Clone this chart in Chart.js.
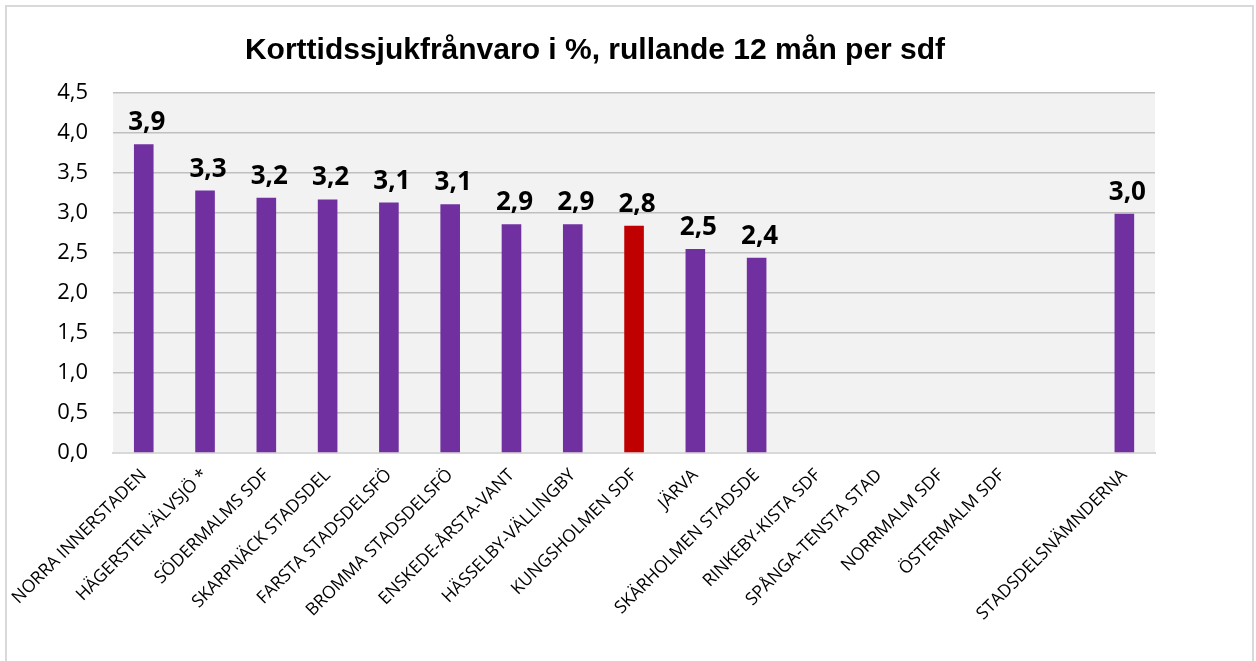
<!DOCTYPE html>
<html>
<head>
<meta charset="utf-8">
<script src="https://cdn.jsdelivr.net/npm/chart.js@4"></script>
<style>
  html, body { margin: 0; padding: 0; background: #fff; }
  #wrap { position: relative; width: 1256px; height: 661px; overflow: hidden; }
  #frame { position: absolute; left: 5px; top: 5px; width: 1249px; height: 700px;
           border: 2px solid #d9d9d9; box-sizing: border-box; }
  canvas { position: absolute; left: 0; top: 0; }
</style>
</head>
<body>
<div id="wrap">
  <div id="frame"></div>
  <canvas id="chart" width="1256" height="661"></canvas>
</div>
<script>
// Chart data
const chartTitle = 'Korttidssjukfrånvaro i %, rullande 12 mån per sdf';
const districts = [
    'NORRA INNERSTADEN', 'HÄGERSTEN-ÄLVSJÖ *', 'SÖDERMALMS SDF', 'SKARPNÄCK STADSDEL',
    'FARSTA STADSDELSFÖ', 'BROMMA STADSDELSFÖ', 'ENSKEDE-ÅRSTA-VANT', 'HÄSSELBY-VÄLLINGBY',
    'KUNGSHOLMEN SDF', 'JÄRVA', 'SKÄRHOLMEN STADSDE', 'RINKEBY-KISTA SDF',
    'SPÅNGA-TENSTA STAD', 'NORRMALM SDF', 'ÖSTERMALM SDF', '', 'STADSDELSNÄMNDERNA'
];
const absenceValues = [3.86, 3.28, 3.19, 3.17, 3.13, 3.11, 2.86, 2.86, 2.84, 2.549, 2.44,
    null, null, null, null, null, 2.99];
const highlightIndex = 8;  // Kungsholmen in red
const yTicks = [0, 0.5, 1, 1.5, 2, 2.5, 3, 3.5, 4, 4.5];

const PURPLE = '#7030a0';
const RED = '#c00000';

const fmt = v => v.toFixed(1).replace('.', ',');

// plot area background
const plotBg = {
    id: 'plotBg',
    beforeDraw(chart) {
        const { ctx, chartArea: a } = chart;
        ctx.save();
        ctx.fillStyle = '#f2f2f2';
        ctx.fillRect(a.left, a.top, a.right - a.left, a.bottom - a.top);
        ctx.restore();
    }
};

// title drawn off-centre like the original
const titleText = {
    id: 'titleText',
    afterDraw(chart) {
        const ctx = chart.ctx;
        ctx.save();
        ctx.font = 'bold 30px "Liberation Sans", Arial, sans-serif';
        ctx.fillStyle = '#000';
        ctx.textAlign = 'center';
        ctx.textBaseline = 'alphabetic';
        ctx.fillText(chartTitle, 595, 59);
        ctx.restore();
    }
};

// value labels over the bars
const valueLabels = {
    id: 'valueLabels',
    afterDatasetsDraw(chart) {
        const ctx = chart.ctx;
        const meta = chart.getDatasetMeta(0);
        ctx.save();
        ctx.font = 'bold 26px "Open Sans", sans-serif';
        ctx.fillStyle = '#000';
        ctx.textAlign = 'center';
        ctx.textBaseline = 'alphabetic';
        meta.data.forEach((bar, i) => {
            const v = absenceValues[i];
            if (v === null) return;
            ctx.fillText(fmt(v), bar.x + 3, bar.y - 14);
        });
        ctx.restore();
    }
};

new Chart(document.getElementById('chart'), {
    type: 'bar',
    data: {
        labels: districts,
        datasets: [{
            data: absenceValues,
            backgroundColor: absenceValues.map((v, i) => i === highlightIndex ? RED : PURPLE),
            categoryPercentage: 1,
            barPercentage: 0.32
        }]
    },
    options: {
        responsive: false,
        animation: false,
        layout: { padding: { top: 93, right: 101, left: 0, bottom: 0 } },
        plugins: {
            legend: { display: false },
            tooltip: { enabled: false },
            title: { display: false }
        },
        scales: {
            x: {
                grid: { display: false, drawTicks: false },
                border: { color: '#d9d9d9', width: 2 },
                ticks: {
                    color: '#000',
                    font: { family: 'Open Sans', size: 17.5 },
                    minRotation: 45,
                    maxRotation: 45,
                    autoSkip: false,
                    padding: 12
                },
                afterFit: s => { s.height = 208; }
            },
            y: {
                min: 0,
                max: 4.5,
                afterBuildTicks: s => { s.ticks = yTicks.map(v => ({ value: v })); },
                grid: { color: '#bfbfbf', lineWidth: 1.5, drawTicks: false },
                border: { display: false },
                ticks: {
                    color: '#000',
                    font: { family: 'Open Sans', size: 22 },
                    padding: 25,
                    callback: v => fmt(v)
                },
                afterFit: s => { s.width = 112; }
            }
        }
    },
    plugins: [plotBg, valueLabels, titleText]
});
</script>
</body>
</html>
